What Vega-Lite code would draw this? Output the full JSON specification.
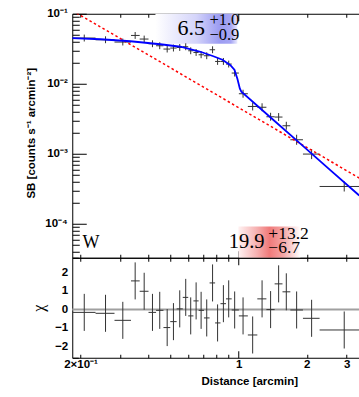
{
  "$schema": "https://vega.github.io/schema/vega-lite/v6.json",
  "background": "white",
  "padding": {"left": 25.25, "top": 7.75, "right": 0, "bottom": 0},
  "bounds": "flush",
  "spacing": 0,
  "data": {"values": [{}]},
  "config": {
    "view": {"stroke": null},
    "axis": {
      "grid": false, "domainColor": "#000", "tickColor": "#000", "domainWidth": 1, "tickWidth": 1,
      "labelFont": "Liberation Sans", "labelFontWeight": "bold", "labelFontSize": 11.5, "labelColor": "#000",
      "titleFont": "Liberation Sans", "titleFontWeight": "bold", "titleFontSize": 11.5, "titleColor": "#000",
      "labelOverlap": false, "labelFlush": false
    }
  },
  "datasets": {
    "pts": [
      {"x": 0.2077, "xlo": 0.18, "xhi": 0.2330, "sb": 0.04497, "sblo": 0.04015, "sbhi": 0.05037, "chi": -0.15, "chilo": -1.15, "chihi": 0.85},
      {"x": 0.2579, "xlo": 0.2330, "xhi": 0.2826, "sb": 0.04251, "sblo": 0.03796, "sbhi": 0.04761, "chi": -0.2, "chilo": -1.2, "chihi": 0.8},
      {"x": 0.3075, "xlo": 0.2826, "xhi": 0.3342, "sb": 0.03942, "sblo": 0.03520, "sbhi": 0.04415, "chi": -0.58, "chilo": -1.58, "chihi": 0.42},
      {"x": 0.3487, "xlo": 0.3342, "xhi": 0.3651, "sb": 0.04898, "sblo": 0.04373, "sbhi": 0.05486, "chi": 1.55, "chilo": 0.55, "chihi": 2.55},
      {"x": 0.3822, "xlo": 0.3651, "xhi": 0.3994, "sb": 0.04350, "sblo": 0.03884, "sbhi": 0.04872, "chi": 0.99, "chilo": -0.01, "chihi": 1.99},
      {"x": 0.4159, "xlo": 0.3994, "xhi": 0.4314, "sb": 0.03727, "sblo": 0.03328, "sbhi": 0.04174, "chi": -0.15, "chilo": -1.15, "chihi": 0.85},
      {"x": 0.4478, "xlo": 0.4314, "xhi": 0.4651, "sb": 0.03490, "sblo": 0.03116, "sbhi": 0.03909, "chi": -0.04, "chilo": -1.04, "chihi": 0.96},
      {"x": 0.4830, "xlo": 0.4651, "xhi": 0.4983, "sb": 0.03131, "sblo": 0.02796, "sbhi": 0.03507, "chi": -0.97, "chilo": -1.97, "chihi": 0.03},
      {"x": 0.5148, "xlo": 0.4983, "xhi": 0.5318, "sb": 0.03236, "sblo": 0.02889, "sbhi": 0.03624, "chi": -0.65, "chilo": -1.65, "chihi": 0.35},
      {"x": 0.5489, "xlo": 0.5318, "xhi": 0.5661, "sb": 0.03300, "sblo": 0.02946, "sbhi": 0.03696, "chi": 0.04, "chilo": -0.96, "chihi": 1.04},
      {"x": 0.5834, "xlo": 0.5661, "xhi": 0.5984, "sb": 0.03378, "sblo": 0.03016, "sbhi": 0.03783, "chi": 0.66, "chilo": -0.34, "chihi": 1.66},
      {"x": 0.6138, "xlo": 0.5984, "xhi": 0.6310, "sb": 0.02960, "sblo": 0.02643, "sbhi": 0.03315, "chi": -0.34, "chilo": -1.34, "chihi": 0.66},
      {"x": 0.6485, "xlo": 0.6310, "xhi": 0.6652, "sb": 0.02800, "sblo": 0.02500, "sbhi": 0.03136, "chi": 0.47, "chilo": -0.53, "chihi": 1.47},
      {"x": 0.6823, "xlo": 0.6652, "xhi": 0.7024, "sb": 0.02596, "sblo": 0.02318, "sbhi": 0.02908, "chi": -0.04, "chilo": -1.04, "chihi": 0.96},
      {"x": 0.7224, "xlo": 0.7024, "xhi": 0.7438, "sb": 0.02512, "sblo": 0.02243, "sbhi": 0.02813, "chi": -0.45, "chilo": -1.45, "chihi": 0.55},
      {"x": 0.7667, "xlo": 0.7438, "xhi": 0.7867, "sb": 0.03059, "sblo": 0.02731, "sbhi": 0.03426, "chi": 1.44, "chilo": 0.44, "chihi": 2.44},
      {"x": 0.8069, "xlo": 0.7867, "xhi": 0.8311, "sb": 0.02083, "sblo": 0.01860, "sbhi": 0.02333, "chi": -0.72, "chilo": -1.72, "chihi": 0.28},
      {"x": 0.8560, "xlo": 0.8311, "xhi": 0.8789, "sb": 0.02083, "sblo": 0.01860, "sbhi": 0.02333, "chi": 0.32, "chilo": -0.68, "chihi": 1.32},
      {"x": 0.9035, "xlo": 0.8789, "xhi": 0.9314, "sb": 0.01912, "sblo": 0.01707, "sbhi": 0.02141, "chi": 0.58, "chilo": -0.42, "chihi": 1.58},
      {"x": 0.9601, "xlo": 0.9314, "xhi": 1.002, "sb": 0.01422, "sblo": 0.01270, "sbhi": 0.01593, "chi": -0.02, "chilo": -1.02, "chihi": 0.98},
      {"x": 1.0457, "xlo": 1.002, "xhi": 1.098, "sb": 0.00720, "sblo": 0.006316, "sbhi": 0.008208, "chi": -0.34, "chilo": -1.34, "chihi": 0.66},
      {"x": 1.153, "xlo": 1.098, "xhi": 1.209, "sb": 0.004738, "sblo": 0.004156, "sbhi": 0.005401, "chi": -1.37, "chilo": -2.37, "chihi": -0.37},
      {"x": 1.269, "xlo": 1.209, "xhi": 1.326, "sb": 0.004617, "sblo": 0.004050, "sbhi": 0.005263, "chi": 0.58, "chilo": -0.42, "chihi": 1.58},
      {"x": 1.384, "xlo": 1.326, "xhi": 1.442, "sb": 0.003378, "sblo": 0.002963, "sbhi": 0.003851, "chi": 0.0, "chilo": -1.0, "chihi": 1.0},
      {"x": 1.502, "xlo": 1.442, "xhi": 1.562, "sb": 0.003344, "sblo": 0.002933, "sbhi": 0.003812, "chi": 1.39, "chilo": 0.39, "chihi": 2.39},
      {"x": 1.624, "xlo": 1.562, "xhi": 1.692, "sb": 0.002512, "sblo": 0.002204, "sbhi": 0.002864, "chi": 0.96, "chilo": -0.04, "chihi": 1.96},
      {"x": 1.804, "xlo": 1.692, "xhi": 1.924, "sb": 0.001585, "sblo": 0.001343, "sbhi": 0.001870, "chi": -0.02, "chilo": -1.02, "chihi": 0.98},
      {"x": 2.101, "xlo": 1.924, "xhi": 2.279, "sb": 0.000990, "sblo": 0.000839, "sbhi": 0.001168, "chi": -0.47, "chilo": -1.47, "chihi": 0.53},
      {"x": 2.928, "xlo": 2.279, "xhi": 3.765, "sb": 0.000341, "sblo": 0.000289, "sbhi": 0.000402, "chi": -1.1, "chilo": -2.1, "chihi": -0.1}
    ],
    "model": [
      {"x": 0.1838, "sb": 0.04497}, {"x": 0.2450, "sb": 0.04322}, {"x": 0.3325, "sb": 0.04047},
      {"x": 0.4507, "sb": 0.03666}, {"x": 0.5527, "sb": 0.03378}, {"x": 0.6776, "sb": 0.02865},
      {"x": 0.7731, "sb": 0.02471}, {"x": 0.8472, "sb": 0.02203}, {"x": 0.9191, "sb": 0.01838},
      {"x": 0.9572, "sb": 0.01585}, {"x": 0.9870, "sb": 0.01179}, {"x": 1.0123, "sb": 0.00848},
      {"x": 1.0278, "sb": 0.00769}, {"x": 1.380, "sb": 0.003322}, {"x": 1.873, "sb": 0.001394},
      {"x": 2.541, "sb": 0.000585}, {"x": 3.412, "sb": 0.0002537}
    ],
    "powerlaw": [
      {"x": 0.1838, "sb": 0.1113}, {"x": 3.412, "sb": 0.000450}
    ],
    "chiticks": [
      {"v": 2, "t": "2"}, {"v": 1, "t": "1"}, {"v": 0, "t": "0"}, {"v": -1, "t": "−1"}, {"v": -2, "t": "−2"}
    ]
  },
  "vconcat": [
    {
      "width": 287,
      "height": 244,
      "resolve": {"axis": {"x": "independent"}},
      "layer": [
        {
          "mark": {"type": "rect", "fill": {"gradient": "linear", "x1": 0, "y1": 0, "x2": 1, "y2": 0,
            "stops": [{"offset": 0, "color": "#ffffff"}, {"offset": 0.5, "color": "#d4d4fa"}, {"offset": 0.78, "color": "#9c9cf2"}, {"offset": 0.92, "color": "#a6a6f4"}, {"offset": 1, "color": "#ececfd"}]}},
          "encoding": {
            "x": {"datum": 0.4287, "type": "quantitative", "axis": null},
            "x2": {"datum": 0.9869},
            "y": {"datum": 0.1, "type": "quantitative"},
            "y2": {"datum": 0.03728}
          }
        },
        {
          "mark": {"type": "rect", "fill": {"gradient": "linear", "x1": 0, "y1": 0, "x2": 1, "y2": 0,
            "stops": [{"offset": 0, "color": "#fff2f2"}, {"offset": 0.3, "color": "#f6b0b0"}, {"offset": 0.5, "color": "#f07a7a"}, {"offset": 0.72, "color": "#f4a4a4"}, {"offset": 1, "color": "#ffffff"}]}},
          "encoding": {
            "x": {"datum": 0.997, "type": "quantitative", "axis": null},
            "x2": {"datum": 1.873},
            "y": {"datum": 0.0000915, "type": "quantitative"},
            "y2": {"datum": 0.0000327}
          }
        },
        {
          "data": {"name": "pts"},
          "mark": {"type": "rule", "color": "#333", "strokeWidth": 1, "clip": true},
          "encoding": {
            "x": {"field": "xlo", "type": "quantitative",
              "scale": {"type": "log", "domain": [0.1838, 3.412], "nice": false},
              "axis": {"orient": "bottom", "labels": false, "title": null,
                "values": [0.2, 0.3, 0.4, 0.5, 0.6, 0.7, 0.8, 0.9, 1, 2, 3],
                "tickSize": {"condition": {"test": "datum.value == 1", "value": -7}, "value": -3.5}}},
            "x2": {"field": "xhi"},
            "y": {"field": "sb", "type": "quantitative",
              "scale": {"type": "log", "domain": [0.0000327, 0.1], "nice": false},
              "axis": {"orient": "left", "title": "SB [counts s⁻¹ arcmin⁻²]",
                "titleX": -41, "titleY": 119, "titleAlign": "center", "titleBaseline": "middle", "titleAngle": 270,
                "labelPadding": 19,
                "values": [0.00004, 0.00005, 0.00006, 0.00007, 0.00008, 0.00009, 0.0001, 0.0002, 0.0003, 0.0004, 0.0005, 0.0006, 0.0007, 0.0008, 0.0009, 0.001, 0.002, 0.003, 0.004, 0.005, 0.006, 0.007, 0.008, 0.009, 0.01, 0.02, 0.03, 0.04, 0.05, 0.06, 0.07, 0.08, 0.09, 0.1],
                "labelExpr": "datum.value == 0.1 ? '10⁻¹' : datum.value == 0.01 ? '10⁻²' : datum.value == 0.001 ? '10⁻³' : datum.value == 0.0001 ? '10⁻⁴' : ''",
                "tickSize": {"condition": {"test": "datum.value == 0.1 || datum.value == 0.01 || datum.value == 0.001 || datum.value == 0.0001", "value": -14}, "value": -7}}}
          }
        },
        {
          "data": {"name": "pts"},
          "mark": {"type": "rule", "color": "#333", "strokeWidth": 1, "clip": true},
          "encoding": {
            "x": {"field": "x", "type": "quantitative", "axis": null},
            "y": {"field": "sblo", "type": "quantitative"},
            "y2": {"field": "sbhi"}
          }
        },
        {
          "data": {"name": "powerlaw"},
          "mark": {"type": "line", "color": "#ff0000", "strokeWidth": 1.5, "strokeDash": [2.5, 2.5], "clip": true},
          "encoding": {
            "x": {"field": "x", "type": "quantitative",
              "axis": {"orient": "top", "labels": false, "title": null,
                "values": [0.2, 0.3, 0.4, 0.5, 0.6, 0.7, 0.8, 0.9, 1, 2, 3],
                "tickSize": {"condition": {"test": "datum.value == 1", "value": -7}, "value": -3.5}}},
            "y": {"field": "sb", "type": "quantitative"}
          }
        },
        {
          "data": {"name": "model"},
          "mark": {"type": "line", "color": "#0000ff", "strokeWidth": 1.8, "clip": true},
          "encoding": {
            "x": {"field": "x", "type": "quantitative", "axis": null},
            "y": {"field": "sb", "type": "quantitative"}
          }
        },
        {
          "mark": {"type": "text", "text": "6.5", "font": "Liberation Serif", "fontSize": 22, "align": "left", "baseline": "alphabetic", "color": "#000"},
          "encoding": {"x": {"datum": 0.5363, "type": "quantitative", "axis": null}, "y": {"datum": 0.0501, "type": "quantitative"}}
        },
        {
          "mark": {"type": "text", "text": "+1.0", "font": "Liberation Serif", "fontSize": 16.5, "align": "left", "baseline": "alphabetic", "color": "#000"},
          "encoding": {"x": {"datum": 0.7424, "type": "quantitative", "axis": null}, "y": {"datum": 0.0681, "type": "quantitative"}}
        },
        {
          "mark": {"type": "text", "text": "−0.9", "font": "Liberation Serif", "fontSize": 16.5, "align": "left", "baseline": "alphabetic", "color": "#000"},
          "encoding": {"x": {"datum": 0.7424, "type": "quantitative", "axis": null}, "y": {"datum": 0.04251, "type": "quantitative"}}
        },
        {
          "mark": {"type": "text", "text": "19.9", "font": "Liberation Serif", "fontSize": 20.5, "align": "left", "baseline": "alphabetic", "color": "#000"},
          "encoding": {"x": {"datum": 0.9034, "type": "quantitative", "axis": null}, "y": {"datum": 0.0000450, "type": "quantitative"}}
        },
        {
          "mark": {"type": "text", "text": "+13.2", "font": "Liberation Serif", "fontSize": 17.5, "align": "left", "baseline": "alphabetic", "color": "#000"},
          "encoding": {"x": {"datum": 1.352, "type": "quantitative", "axis": null}, "y": {"datum": 0.0000610, "type": "quantitative"}}
        },
        {
          "mark": {"type": "text", "text": "−6.7", "font": "Liberation Serif", "fontSize": 17.5, "align": "left", "baseline": "alphabetic", "color": "#000"},
          "encoding": {"x": {"datum": 1.352, "type": "quantitative", "axis": null}, "y": {"datum": 0.00003815, "type": "quantitative"}}
        },
        {
          "mark": {"type": "text", "text": "W", "font": "Liberation Serif", "fontSize": 18, "align": "left", "baseline": "alphabetic", "color": "#000"},
          "encoding": {"x": {"datum": 0.2042, "type": "quantitative", "axis": null}, "y": {"datum": 0.0000454, "type": "quantitative"}}
        }
      ]
    },
    {
      "width": 287,
      "height": 100,
      "resolve": {"axis": {"x": "independent"}},
      "layer": [
        {
          "mark": {"type": "rule", "color": "#a0a0a0", "strokeWidth": 2},
          "encoding": {
            "y": {"datum": 0, "type": "quantitative",
              "scale": {"domain": [-2.6, 2.8], "nice": false, "zero": false},
              "axis": {"orient": "left", "title": "χ", "titleFont": "Liberation Serif", "titleFontWeight": "normal", "titleFontSize": 16,
                "titleX": -33.5, "titleY": 50, "titleAlign": "center", "titleBaseline": "middle", "titleAngle": 270,
                "labels": true, "labelPadding": 16,
                "values": [-2.6, -2.4, -2.2, -2, -1.8, -1.6, -1.4, -1.2, -1, -0.8, -0.6, -0.4, -0.2, 0, 0.2, 0.4, 0.6, 0.8, 1, 1.2, 1.4, 1.6, 1.8, 2, 2.2, 2.4, 2.6, 2.8],
                "labelExpr": "abs(datum.value - round(datum.value)) < 0.001 ? (datum.value < -0.5 ? '−' + format(abs(datum.value), 'd') : format(datum.value, 'd')) : ''",
                "tickSize": {"condition": {"test": "abs(datum.value - round(datum.value)) < 0.001", "value": -12}, "value": -6}}}
          }
        },
        {
          "data": {"name": "pts"},
          "mark": {"type": "rule", "color": "#333", "strokeWidth": 1, "clip": true},
          "encoding": {
            "x": {"field": "xlo", "type": "quantitative",
              "scale": {"type": "log", "domain": [0.1838, 3.412], "nice": false},
              "axis": {"orient": "bottom", "title": "Distance [arcmin]",
                "titleX": 177, "titleY": 24, "titleAlign": "center", "titleBaseline": "middle",
                "labelPadding": {"condition": {"test": "datum.value == 1", "value": 7.5}, "value": 4},
                "values": [0.2, 0.3, 0.4, 0.5, 0.6, 0.7, 0.8, 0.9, 1, 2, 3],
                "labelExpr": "datum.value == 0.2 ? '2×10⁻¹' : datum.value == 1 ? '1' : datum.value == 2 ? '2' : datum.value == 3 ? '3' : ''",
                "tickSize": {"condition": {"test": "datum.value == 1", "value": -7}, "value": -3.5}}},
            "x2": {"field": "xhi"},
            "y": {"field": "chi", "type": "quantitative"}
          }
        },
        {
          "data": {"name": "pts"},
          "mark": {"type": "rule", "color": "#333", "strokeWidth": 1, "clip": true},
          "encoding": {
            "x": {"field": "x", "type": "quantitative",
              "axis": {"orient": "top", "labels": false, "title": null,
                "values": [0.2, 0.3, 0.4, 0.5, 0.6, 0.7, 0.8, 0.9, 1, 2, 3],
                "tickSize": {"condition": {"test": "datum.value == 1", "value": -7}, "value": -3.5}}},
            "y": {"field": "chilo", "type": "quantitative"},
            "y2": {"field": "chihi"}
          }
        },
        {
          "data": {"name": "chiticks"},
          "mark": {"type": "text", "align": "right", "baseline": "middle", "dx": -4, "font": "Liberation Sans", "fontWeight": "bold", "fontSize": 11.5, "color": "#000", "clip": false},
          "encoding": {
            "x": {"datum": 0.1838, "type": "quantitative", "axis": null},
            "y": {"field": "v", "type": "quantitative"},
            "text": {"field": "t", "type": "nominal"}
          }
        }
      ]
    }
  ]
}
